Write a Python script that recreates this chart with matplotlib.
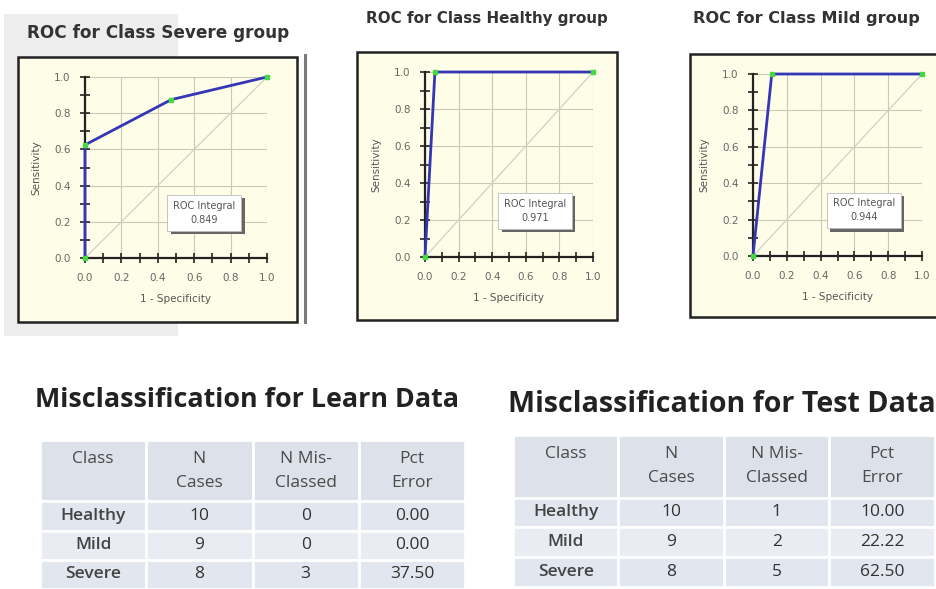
import matplotlib
matplotlib.use("Agg")
import matplotlib.pyplot as plt
import matplotlib.patheffects as pe
from matplotlib.patches import Rectangle
from matplotlib.ticker import MultipleLocator

W, H = 937, 589

# ROC curves: (1 - specificity, sensitivity) points
severe_fpr = [0.0, 0.0, 0.474, 1.0]
severe_tpr = [0.0, 0.625, 0.875, 1.0]
healthy_fpr = [0.0, 0.059, 1.0]
healthy_tpr = [0.0, 1.0, 1.0]
mild_fpr = [0.0, 0.111, 1.0]
mild_tpr = [0.0, 1.0, 1.0]
roc_titles = ["ROC for Class Severe group", "ROC for Class Healthy group", "ROC for Class Mild group"]
roc_integrals = ["0.849", "0.971", "0.944"]

# misclassification tables
classes = ["Healthy", "Mild", "Severe"]
n_cases = [10, 9, 8]
learn_miss = [0, 0, 3]
learn_pct = [0.00, 0.00, 37.50]
test_miss = [1, 2, 5]
test_pct = [10.00, 22.22, 62.50]
headers = ["Class\n ", "N\nCases", "N Mis-\nClassed", "Pct\nError"]


def px_axes(fig, x0, y0, x1, y1, **kw):
    # pixel box (top-left origin) -> figure axes
    return fig.add_axes([x0 / W, 1 - y1 / H, (x1 - x0) / W, (y1 - y0) / H], **kw)


def px_rect(fig, x0, y0, x1, y1, **kw):
    rect = Rectangle((x0 / W, 1 - y1 / H), (x1 - x0) / W, (y1 - y0) / H,
                     transform=fig.transFigure, **kw)
    fig.patches.append(rect)
    return rect


fig = plt.figure(figsize=(W / 100, H / 100), dpi=100)
fig.patch.set_facecolor("white")

# faint watermark band behind the first panel
px_rect(fig, 4, 14, 178, 336, facecolor="#ededed", edgecolor="none", zorder=-3)

frames = [(18, 57, 297, 322), (357, 52, 617, 320), (690, 54, 950, 317)]
plot_boxes = [(85, 77, 267, 258), (425, 72, 593, 257), (753, 74, 922, 256)]
title_pos = [(27, 33, 12.2), (366, 18, 10.9), (693, 18, 11.6)]
curves = [(severe_fpr, severe_tpr), (healthy_fpr, healthy_tpr), (mild_fpr, mild_tpr)]

for i in range(3):
    fx0, fy0, fx1, fy1 = frames[i]
    px_rect(fig, fx0, fy0, fx1, fy1, facecolor="#fefde8", edgecolor="#222222",
            linewidth=1.8, zorder=-2)
    tx, ty, tsize = title_pos[i]
    fig.text(tx / W, 1 - ty / H, roc_titles[i], fontsize=tsize, fontweight="bold",
             family="DejaVu Sans", color="#333333", va="center", ha="left")

    ax = px_axes(fig, *plot_boxes[i])
    ax.set_zorder(2)
    ax.set_facecolor("#fefde8")
    ax.xaxis.set_major_locator(MultipleLocator(0.2))
    ax.yaxis.set_major_locator(MultipleLocator(0.2))
    ax.xaxis.set_minor_locator(MultipleLocator(0.1))
    ax.yaxis.set_minor_locator(MultipleLocator(0.1))
    ax.xaxis.set_major_formatter("{x:.1f}")
    ax.yaxis.set_major_formatter("{x:.1f}")
    ax.set_xlim(0, 1)
    ax.set_ylim(0, 1)
    ax.grid(True, which="major", color="#cac9b5", linewidth=0.8)
    for side in ["top", "right"]:
        ax.spines[side].set_visible(False)
    for side in ["left", "bottom"]:
        ax.spines[side].set_linewidth(1.6)
        ax.spines[side].set_color("#222222")
    ax.tick_params(which="both", direction="inout", length=7, width=1.2,
                   color="#222222", labelsize=7.5, labelcolor="#666666", pad=7)
    ax.set_xlabel("1 - Specificity", fontsize=7.5, color="#555555", labelpad=8)
    ax.set_ylabel("Sensitivity", fontsize=7.5, color="#555555", labelpad=9)

    ax.plot([0, 1], [0, 1], color="#d0d0c8", linewidth=0.9, zorder=2)
    fpr, tpr = curves[i]
    ax.plot(fpr, tpr, color="#3535b8", linewidth=2.0, zorder=3, clip_on=False)
    ax.plot(fpr, tpr, linestyle="none", marker="s", markersize=3.2,
            color="#44d844", zorder=4, clip_on=False)

    t = ax.text(0.655, 0.25, "ROC Integral\n" + roc_integrals[i], fontsize=7,
                color="#555555", ha="center", va="center", linespacing=1.5, zorder=5,
                bbox=dict(boxstyle="square,pad=0.6", facecolor="white",
                          edgecolor="#bbbbbb", linewidth=0.6))
    t.get_bbox_patch().set_path_effects(
        [pe.withSimplePatchShadow(offset=(2.5, -2.5), shadow_rgbFace="#666666", alpha=1.0)])

# gray separator to the right of the first panel
fig.add_artist(plt.Line2D([305 / W, 305 / W], [1 - 55 / H, 1 - 322 / H],
                          transform=fig.transFigure, color="#7a7a7a", linewidth=2.2))


def draw_table(box, title_xy, title_size, title, miss, pct):
    tx, ty = title_xy
    fig.text(tx / W, 1 - ty / H, title, fontsize=title_size, fontweight="bold",
             family="Open Sans", color="#222222", va="center", ha="left")
    ax = px_axes(fig, *box)
    ax.axis("off")
    rows = [[c, str(n), str(m), f"{p:.2f}"] for c, n, m, p in zip(classes, n_cases, miss, pct)]
    tbl = ax.table(cellText=rows, colLabels=headers, cellLoc="center",
                   bbox=[0, 0, 1, 1])
    tbl.auto_set_font_size(False)
    row_colors = ["#e2e6ee", "#e9ecf2", "#e2e6ee"]
    for (r, c), cell in tbl.get_celld().items():
        cell.set_edgecolor("white")
        cell.set_linewidth(2)
        cell.get_text().set_family("Open Sans")
        cell.get_text().set_fontsize(12.5)
        if r == 0:
            cell.set_height(2.1)
            cell.set_facecolor("#dde2ea")
            cell.get_text().set_color("#4a4a4a")
            cell.get_text().set_linespacing(1.65)
        else:
            cell.set_height(1.0)
            cell.set_facecolor(row_colors[r - 1])
            cell.get_text().set_color("#333333")
            if c == 0:
                cell.get_text().set_fontweight("semibold")
                cell.get_text().set_color("#444444")
    return ax


draw_table((40, 440, 465, 589), (35, 400), 19.4, "Misclassification for Learn Data",
           learn_miss, learn_pct)
draw_table((513, 435, 935, 587), (508, 404), 20.6, "Misclassification for Test Data",
           test_miss, test_pct)

fig.savefig("out.png", dpi=100)
